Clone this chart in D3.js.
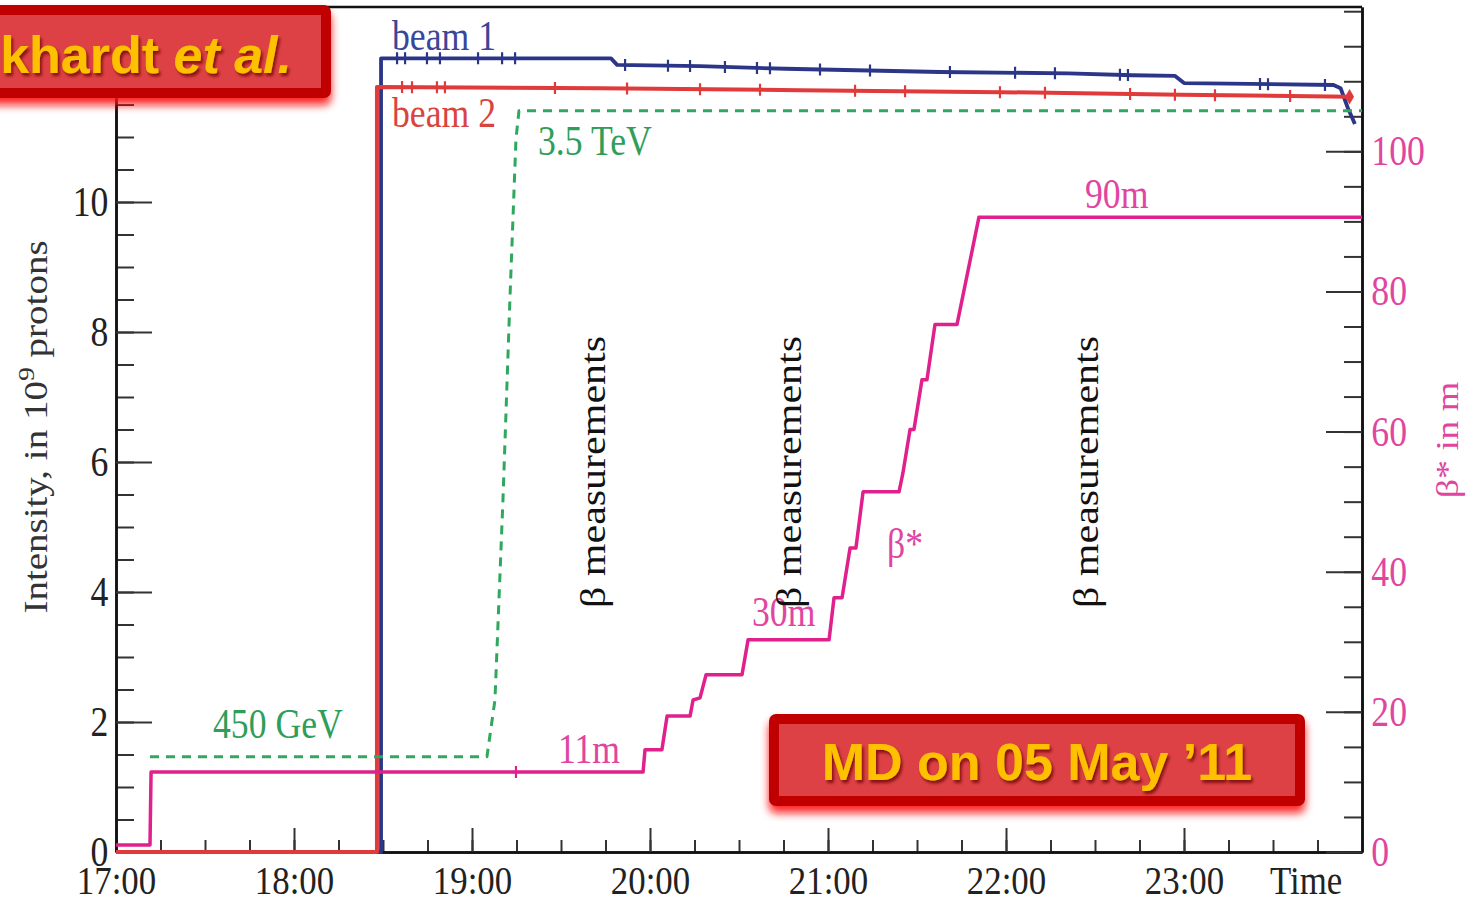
<!DOCTYPE html>
<html><head><meta charset="utf-8">
<script src="https://cdn.jsdelivr.net/npm/d3@7"></script>
<style>body{margin:0;background:#fff} svg{display:block}</style>
</head><body><svg id="c" width="1468" height="900"></svg>
<script>
// ---- data (time in hours after 17:00) ----
const hourLabels = ["17:00","18:00","19:00","20:00","21:00","22:00","23:00"];
const hourTicks = [0,1,2,3,4,5,6];
const leftTicks = [0,2,4,6,8,10,12];
const rightTicks = [0,20,40,60,80,100];

const beam1Time = [0, 1.489, 1.489, 2.781, 2.815, 3.28, 3.76, 4.63, 5.35, 5.71, 5.95, 6.0, 6.84, 6.88, 6.92, 6.96];
const beam1Val  = [0, 0, 12.21, 12.21, 12.11, 12.09, 12.05, 12.0, 11.98, 11.95, 11.94, 11.83, 11.80, 11.75, 11.45, 11.2];
const beam1Marks = [1.579,1.624,1.747,1.820,2.034,2.169,2.242,2.860,3.101,3.225,3.421,3.601,3.674,3.955,4.236,4.685,5.051,5.275,5.640,5.685,6.427,6.472,6.792];

const beam2Time = [0, 1.466, 1.466, 2.72, 3.84, 4.97, 5.98, 6.93];
const beam2Val  = [0, 0, 11.77, 11.75, 11.72, 11.69, 11.65, 11.62];
const beam2Marks = [1.607,1.663,1.803,1.848,2.466,2.871,3.281,3.618,4.152,4.433,4.966,5.219,5.697,5.949,6.174,6.596];

const energyTime = [0.191, 2.084, 2.129, 2.174, 2.213, 2.247, 2.264, 7.0];
const energyGeV  = [450, 450, 718, 1664, 2610, 3366, 3500, 3500];

const betaTime = [0, 0.191, 0.197, 2.961, 2.972, 3.067, 3.096, 3.225, 3.242, 3.281, 3.315, 3.517, 3.551, 4.006, 4.034, 4.079, 4.124, 4.157, 4.197, 4.399, 4.421, 4.461, 4.483, 4.528, 4.556, 4.601, 4.725, 4.848, 7.0];
const betaVal  = [1.0, 1.0, 11.4, 11.4, 14.6, 14.6, 19.4, 19.4, 21.7, 22.0, 25.3, 25.3, 30.3, 30.3, 36.3, 36.3, 43.4, 43.4, 51.4, 51.4, 54.1, 60.3, 60.3, 67.4, 67.4, 75.3, 75.3, 90.6, 90.6];
const betaMarks = [2.247];

// ---- layout ----
const L = 116, R = 1362, T = 7, B = 852;
const SX = 0.85;
const serif = "'Liberation Serif','Times New Roman',serif";
const sans = "'Liberation Sans',Arial,sans-serif";
const C = {blue:"#2b3688", red:"#e03a3a", green:"#2ea85c", mag:"#e0208c",
           blueT:"#3a4698", redT:"#d8453f", greenT:"#2f9e5a", magT:"#e0469f"};

const svg = d3.select("#c");
const defs = svg.append("defs");
const glow = defs.append("filter").attr("id","glow").attr("x","-10%").attr("y","-30%").attr("width","120%").attr("height","170%");
glow.append("feDropShadow").attr("dx",0).attr("dy",7).attr("stdDeviation",4).attr("flood-color","#ff1010").attr("flood-opacity",0.9);
const tsh = defs.append("filter").attr("id","tsh").attr("x","-5%").attr("y","-20%").attr("width","110%").attr("height","150%");
tsh.append("feDropShadow").attr("dx",2).attr("dy",3).attr("stdDeviation",1.6).attr("flood-color","#6a0000").attr("flood-opacity",0.75);

const x = d3.scaleLinear().domain([0,7]).range([L,R]);
const yL = d3.scaleLinear().domain([0,13]).range([B,T]);
const yR = d3.scaleLinear().domain([0,120.6]).range([B,T]);
const yE = d3.scaleLinear().domain([0,3990]).range([B,T]);

function styleAxis(g, color, size){
  g.selectAll("path.domain").attr("stroke","#111").attr("stroke-width",2.5);
  g.selectAll(".tick line").attr("stroke","#333").attr("stroke-width",2);
  g.selectAll(".tick text").attr("fill",color).attr("font-family",serif).attr("font-size",size||42)
    .attr("transform",`scale(${SX},1)`);
}

// minor ticks
svg.append("g").attr("transform",`translate(0,${B})`)
  .call(d3.axisBottom(x).tickValues(d3.range(0,7,0.25)).tickSize(-12).tickSizeOuter(0).tickFormat(""))
  .call(g=>styleAxis(g,"#222"));
svg.append("g").attr("transform",`translate(${L},0)`)
  .call(d3.axisLeft(yL).tickValues(d3.range(0,13.01,0.5)).tickSize(-18).tickSizeOuter(0).tickFormat(""))
  .call(g=>styleAxis(g,"#222"));
svg.append("g").attr("transform",`translate(${R},0)`)
  .call(d3.axisRight(yR).tickValues(d3.range(0,120.1,5)).tickSize(-18).tickSizeOuter(0).tickFormat(""))
  .call(g=>styleAxis(g,"#222"));
// major ticks
svg.append("g").attr("transform",`translate(0,${B})`)
  .call(d3.axisBottom(x).tickValues(hourTicks).tickSize(-24).tickSizeOuter(0).tickPadding(13).tickFormat(i=>hourLabels[i]))
  .call(g=>styleAxis(g,"#222",41));
svg.append("g").attr("transform",`translate(${L},0)`)
  .call(d3.axisLeft(yL).tickValues(leftTicks).tickSize(-36).tickSizeOuter(0).tickPadding(9))
  .call(g=>styleAxis(g,"#222"));
svg.append("g").attr("transform",`translate(${R},0)`)
  .call(d3.axisRight(yR).tickValues(rightTicks).tickSize(-36).tickSizeOuter(0).tickPadding(11))
  .call(g=>styleAxis(g,C.magT));
// top frame
svg.append("line").attr("x1",L).attr("x2",R).attr("y1",T).attr("y2",T).attr("stroke","#111").attr("stroke-width",2.5);

// helpers
const zip = (ts,vs)=>ts.map((t,i)=>[t,vs[i]]);
function interp(ts, vs, t){
  const i = d3.bisectRight(ts, t);
  if(i<=0) return vs[0];
  if(i>=ts.length) return vs[vs.length-1];
  const t0=ts[i-1], t1=ts[i];
  return t1===t0 ? vs[i] : vs[i-1]+(vs[i]-vs[i-1])*(t-t0)/(t1-t0);
}
function series(ts, vs, ys, color, w, dash){
  const line = d3.line().x(d=>x(d[0])).y(d=>ys(d[1]));
  const p = svg.append("path").datum(zip(ts,vs)).attr("d",line).attr("fill","none")
    .attr("stroke",color).attr("stroke-width",w).attr("stroke-linejoin","round");
  if(dash) p.attr("stroke-dasharray",dash);
}
function marks(ts, vs, ys, list, color){
  svg.append("g").selectAll("path").data(list).join("path")
    .attr("d",t=>{const px=x(t), py=ys(interp(ts,vs,t)); return `M${px},${py-6}V${py+6}M${px-3},${py}H${px+3}`;})
    .attr("stroke",color).attr("stroke-width",2.2).attr("fill","none");
}

series(beam1Time, beam1Val, yL, C.blue, 3.8);
marks(beam1Time, beam1Val, yL, beam1Marks, C.blue);
series(beam2Time, beam2Val, yL, C.red, 4);
marks(beam2Time, beam2Val, yL, beam2Marks, C.red);
svg.append("path").attr("d",d3.symbol(d3.symbolDiamond,70)())
  .attr("transform",`translate(${x(beam2Time[beam2Time.length-1])},${yL(beam2Val[beam2Val.length-1])})`).attr("fill",C.red);
series(energyTime, energyGeV, yE, C.green, 3, "9,7");
series(betaTime, betaVal, yR, C.mag, 3.5);
marks(betaTime, betaVal, yR, betaMarks, C.mag);

// text helpers
function txt(str, px, py, color, size, opts={}){
  const t = svg.append("text")
    .attr("transform",`translate(${px},${py}) scale(${SX},1)` + (opts.rot?" rotate(-90)":""))
    .attr("font-family",serif).attr("font-size",size).attr("fill",color)
    .attr("text-anchor",opts.anchor||"start").text(str);
  return t;
}
txt("beam 1", 392, 50, C.blueT, 42);
txt("beam 2", 392, 127, C.redT, 42);
txt("3.5 TeV", 538, 155, C.greenT, 42);
txt("450 GeV", 213, 738, C.greenT, 42);
txt("11m", 558, 763, C.magT, 42);
txt("30m", 752, 626, C.magT, 42);
txt("90m", 1085, 208, C.magT, 42);
txt("β*", 887, 558, C.magT, 42);
txt("Time", 1270, 894, "#222", 41);
txt("β measurements", 605, 472, "#111", 42, {rot:true, anchor:"middle"});
txt("β measurements", 801, 472, "#111", 42, {rot:true, anchor:"middle"});
txt("β measurements", 1098, 472, "#111", 42, {rot:true, anchor:"middle"});
txt("β* in m", 1458, 440, C.magT, 38, {rot:true, anchor:"middle"});
// left axis title with superscript
const yt = svg.append("text").attr("transform",`translate(47,427) scale(${SX},1) rotate(-90)`)
  .attr("font-family",serif).attr("font-size",39).attr("fill","#333").attr("text-anchor","middle");
yt.append("tspan").text("Intensity,  in 10");
yt.append("tspan").attr("font-size",28).attr("dy",-15).text("9");
yt.append("tspan").attr("dy",15).text(" protons");

// red boxes
function box(bx, by, bw, bh){
  const g = svg.append("g");
  g.append("rect").attr("x",bx).attr("y",by).attr("width",bw).attr("height",bh).attr("rx",7)
    .attr("fill","#c00000").attr("filter","url(#glow)");
  g.append("rect").attr("x",bx+10).attr("y",by+10).attr("width",bw-20).attr("height",bh-20)
    .attr("fill","#e04a4e").attr("opacity",0.88);
  return g;
}
box(-20, 5, 351, 93);
const t1 = svg.append("text").attr("x",292).attr("y",73).attr("text-anchor","end")
  .attr("font-family",sans).attr("font-weight","bold").attr("font-size",52).attr("fill","#ffc000").attr("filter","url(#tsh)");
t1.append("tspan").text("khardt ");
t1.append("tspan").attr("font-style","italic").text("et al.");

box(769, 714, 536, 92);
svg.append("text").attr("x",1037).attr("y",780).attr("text-anchor","middle")
  .attr("font-family",sans).attr("font-weight","bold").attr("font-size",52).attr("fill","#ffc000")
  .attr("filter","url(#tsh)").text("MD on 05 May ’11");
</script></body></html>
